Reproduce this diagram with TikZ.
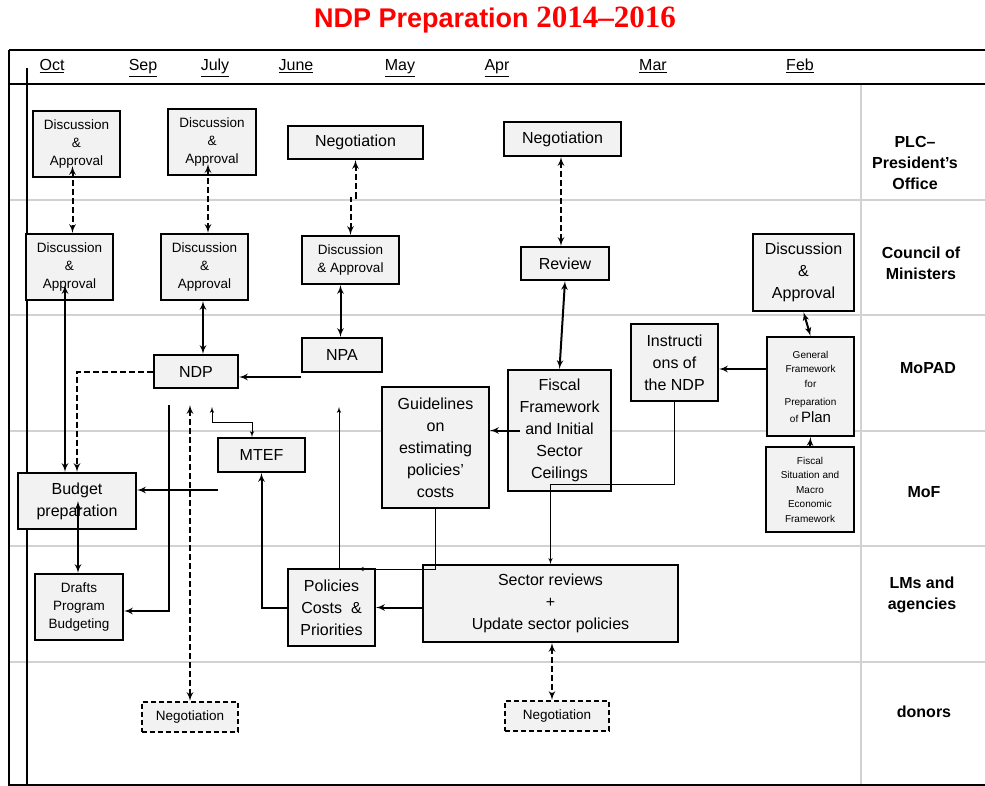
\documentclass[tikz,border=0pt]{standalone}
\usepackage{fontspec}
\setmainfont{Liberation Sans}
\newfontfamily\yearfont{Liberation Serif}
\usetikzlibrary{arrows}

\begin{document}
\begin{tikzpicture}[x=1pt,y=-1pt,>=latex']
	\tikzstyle{box} = [rectangle, draw, fill=gray!10, line width=2pt, inner sep=1pt, align=center]
	\tikzstyle{dbox} = [box, dash pattern=on 5pt off 3pt]
	\tikzstyle{txtL} = [font=\fontsize{16}{22}\selectfont]
	\tikzstyle{txtM} = [font=\fontsize{13.5}{18}\selectfont]
	\tikzstyle{txtS} = [font=\fontsize{10}{14.5}\selectfont]
	\tikzstyle{month} = [font=\fontsize{16}{19}\selectfont, inner sep=0, anchor=base]
	\tikzstyle{lanetxt} = [font=\fontsize{16}{21}\selectfont\bfseries, align=center]
	\tikzstyle{lane} = [draw=gray!35, line width=1.2pt]
	\tikzstyle{link} = [line width=2pt]
	\tikzstyle{tlink} = [line width=1pt]
	\tikzstyle{dlink} = [line width=2pt, dash pattern=on 6pt off 3pt]
	\useasboundingbox (0,0) rectangle (985,786);

	% title
	\node (title) at (495,20) {\color{red}\fontsize{27}{32}\selectfont\bfseries NDP Preparation {\yearfont\fontsize{31}{32}\selectfont 2014–2016}};

	% lanes and frame
	\draw[lane] (9,200) -- (985,200);
	\draw[lane] (9,315) -- (985,315);
	\draw[lane] (9,431) -- (985,431);
	\draw[lane] (9,546) -- (985,546);
	\draw[lane] (9,662) -- (985,662);
	\draw[lane] (861,84) -- (861,785);
	\draw[line width=2pt] (9,50) -- (985,50);
	\draw[line width=2pt] (9,84) -- (985,84);
	\draw[line width=2pt] (985,785) -- (9,785) -- (9,50);
	\draw[line width=2pt] (27,68) -- (27,785);

	% months
	\node (mOct) [month] at (52,71) {\underline{Oct}};
	\node (mSep) [month] at (143,71) {\underline{Sep}};
	\node (mJul) [month] at (215,71) {\underline{July}};
	\node (mJun) [month] at (296,71) {\underline{June}};
	\node (mMay) [month] at (400,71) {\underline{May}};
	\node (mApr) [month] at (497,71) {\underline{Apr}};
	\node (mMar) [month] at (653,71) {\underline{Mar}};
	\node (mFeb) [month] at (800,71) {\underline{Feb}};

	% lane names
	\node (lPLC) [lanetxt] at (915,163) {PLC–\\President’s\\Office};
	\node (lCM) [lanetxt] at (921,263) {Council of\\Ministers};
	\node (lMoPAD) [lanetxt] at (928,368) {MoPAD};
	\node (lMoF) [lanetxt] at (924,492) {MoF};
	\node (lLM) [lanetxt] at (922,595) {LMs and\\agencies};
	\node (lDon) [lanetxt] at (924,712) {donors};

	% PLC
	\node (dA1) [box, txtM, minimum width=87pt, minimum height=66pt] at (76.5,144) {Discussion\\\&\\Approval};
	\node (dA2) [box, txtM, minimum width=88pt, minimum height=66pt] at (212,142) {Discussion\\\&\\Approval};
	\node (neg1) [box, txtL, minimum width=135pt, minimum height=33pt] at (355.5,142.5) {Negotiation};
	\node (neg2) [box, txtL, minimum width=117pt, minimum height=34pt] at (562.5,139) {Negotiation};
	% Council of Ministers
	\node (dA3) [box, txtM, minimum width=87pt, minimum height=66pt] at (69.5,267) {Discussion\\\&\\Approval};
	\node (dA4) [box, txtM, minimum width=87pt, minimum height=66pt] at (204.5,267) {Discussion\\\&\\Approval};
	\node (dA5) [box, txtM, minimum width=97pt, minimum height=48pt] at (350.5,260) {Discussion\\\& Approval};
	\node (review) [box, txtL, minimum width=88pt, minimum height=33pt] at (565,263.5) {Review};
	\node (dA6) [box, txtL, minimum width=101pt, minimum height=77pt] at (803.5,272.5) {Discussion\\\&\\Approval};
	% MoPAD
	\node (ndp) [box, txtL, minimum width=84pt, minimum height=33pt] at (196,371.5) {NDP};
	\node (npa) [box, txtL, minimum width=80pt, minimum height=34pt] at (342,355) {NPA};
	\node (instr) [box, txtL, minimum width=87pt, minimum height=77pt] at (674.5,362.5) {Instructi\\ons of\\the NDP};
	\node (genfw) [box, txtS, minimum width=87pt, minimum height=99pt] at (810.5,386.5) {General\\Framework\\for\\[4pt]Preparation\\[2pt]of {\fontsize{15}{15}\selectfont Plan}};
	\node (fiscal) [box, txtL, minimum width=103pt, minimum height=121pt] at (559.5,430.5) {Fiscal\\Framework\\and Initial\\Sector\\Ceilings};
	\node (guide) [box, txtL, minimum width=107pt, minimum height=121pt] at (435.5,447.5) {Guidelines\\on\\estimating\\policies’\\costs};
	% MoF
	\node (mtef) [box, txtL, minimum width=87pt, minimum height=34pt] at (261.5,455) {MTEF};
	\node (budget) [box, txtL, minimum width=118pt, minimum height=56pt] at (77,501) {Budget\\preparation};
	\node (fsit) [box, txtS, minimum width=88pt, minimum height=85pt] at (810,489.5) {Fiscal\\Situation and\\Macro\\Economic\\Framework};
	% LMs and agencies
	\node (drafts) [box, txtM, minimum width=88pt, minimum height=66pt] at (79,607) {Drafts\\Program\\Budgeting};
	\node (pcp) [box, txtL, minimum width=87pt, minimum height=77pt] at (331.5,607.5) {Policies\\Costs~~\&\\Priorities};
	\node (sector) [box, txtL, minimum width=255pt, minimum height=77pt] at (550.5,603.5) {Sector reviews\\+\\Update sector policies};
	% donors
	\node (neg3) [dbox, txtM, minimum width=96pt, minimum height=30pt] at (190,717) {Negotiation};
	\node (neg4) [dbox, txtM, minimum width=104pt, minimum height=30pt] at (557,716) {Negotiation};

	% loose ends
	\coordinate (c1) at (169,405);
	\coordinate (c2) at (190,405);
	\coordinate (c3) at (212,407);
	\coordinate (c4) at (218,490);
	\coordinate (c5) at (339,407);

	% connectors
	\draw[dlink,<->] ([xshift=-4pt,yshift=12pt]dA1.south) -- ([xshift=3pt]dA3.north);
	\draw[dlink,<->] ([xshift=-4pt,yshift=12pt]dA2.south) -- ([xshift=3.5pt]dA4.north);
	\draw[dlink,<->] (neg1.south) -- ++(0,38) -| (dA5.north);
	\draw[dlink,<->] ([xshift=-1.5pt]neg2.south) -- ([xshift=-4pt]review.north);
	\draw[link,<->] ([xshift=-1.5pt]dA4.south) -- ([xshift=7pt]ndp.north);
	\draw[link,<->] ([xshift=-10pt]dA5.south) -- ([xshift=-1.5pt]npa.north);
	\draw[link,<->] (review.south) -- (fiscal.north);
	\draw[link,<->] (dA6.south) -- (genfw.north);
	\draw[link,<->] ([xshift=-4.5pt,yshift=16pt]dA3.south) -- ([xshift=-12pt]budget.north);
	\draw[dlink,->] (ndp.west) -| (budget.north);
	\draw[link,<->] ([xshift=1pt]budget.center) -- ([xshift=-1pt]drafts.north);
	\draw[link,->] ([yshift=-4pt]npa.south west) coordinate (n1) -- (ndp.east |- n1);
	\draw[link,->] (c1) |- ([yshift=-4pt]drafts.east);
	\draw[dlink,<->] (c2) -- (neg3.north);
	\draw[tlink,<->] (c3) -- ++(0,15) -| ([xshift=-9.5pt]mtef.north);
	\draw[link,->] (c4) -- ([yshift=11pt]budget.east);
	\draw[link,->] (pcp.west) -| (mtef.south);
	\draw[tlink,->] ([xshift=7.5pt]pcp.north) -- (c5);
	\draw[tlink,->] (guide.south) |- ([xshift=26.5pt,yshift=-1pt]pcp.north);
	\draw[link,->] (sector.west |- pcp.east) -- (pcp.east);
	\draw[link,->] ([xshift=-39.5pt]fiscal.center) -- (guide.east |- fiscal.center);
	\draw[tlink,->] (instr.south) -- ++(0,82) -| (sector.north);
	\draw[link,->] ([yshift=17.5pt]genfw.west) -- ([yshift=-6.5pt]instr.east);
	\draw[link,->] (fsit.north) -- (genfw.south);
	\draw[dlink,<->] ([xshift=1.5pt]sector.south) -- ([xshift=-5pt]neg4.north);
\end{tikzpicture}
\end{document}
